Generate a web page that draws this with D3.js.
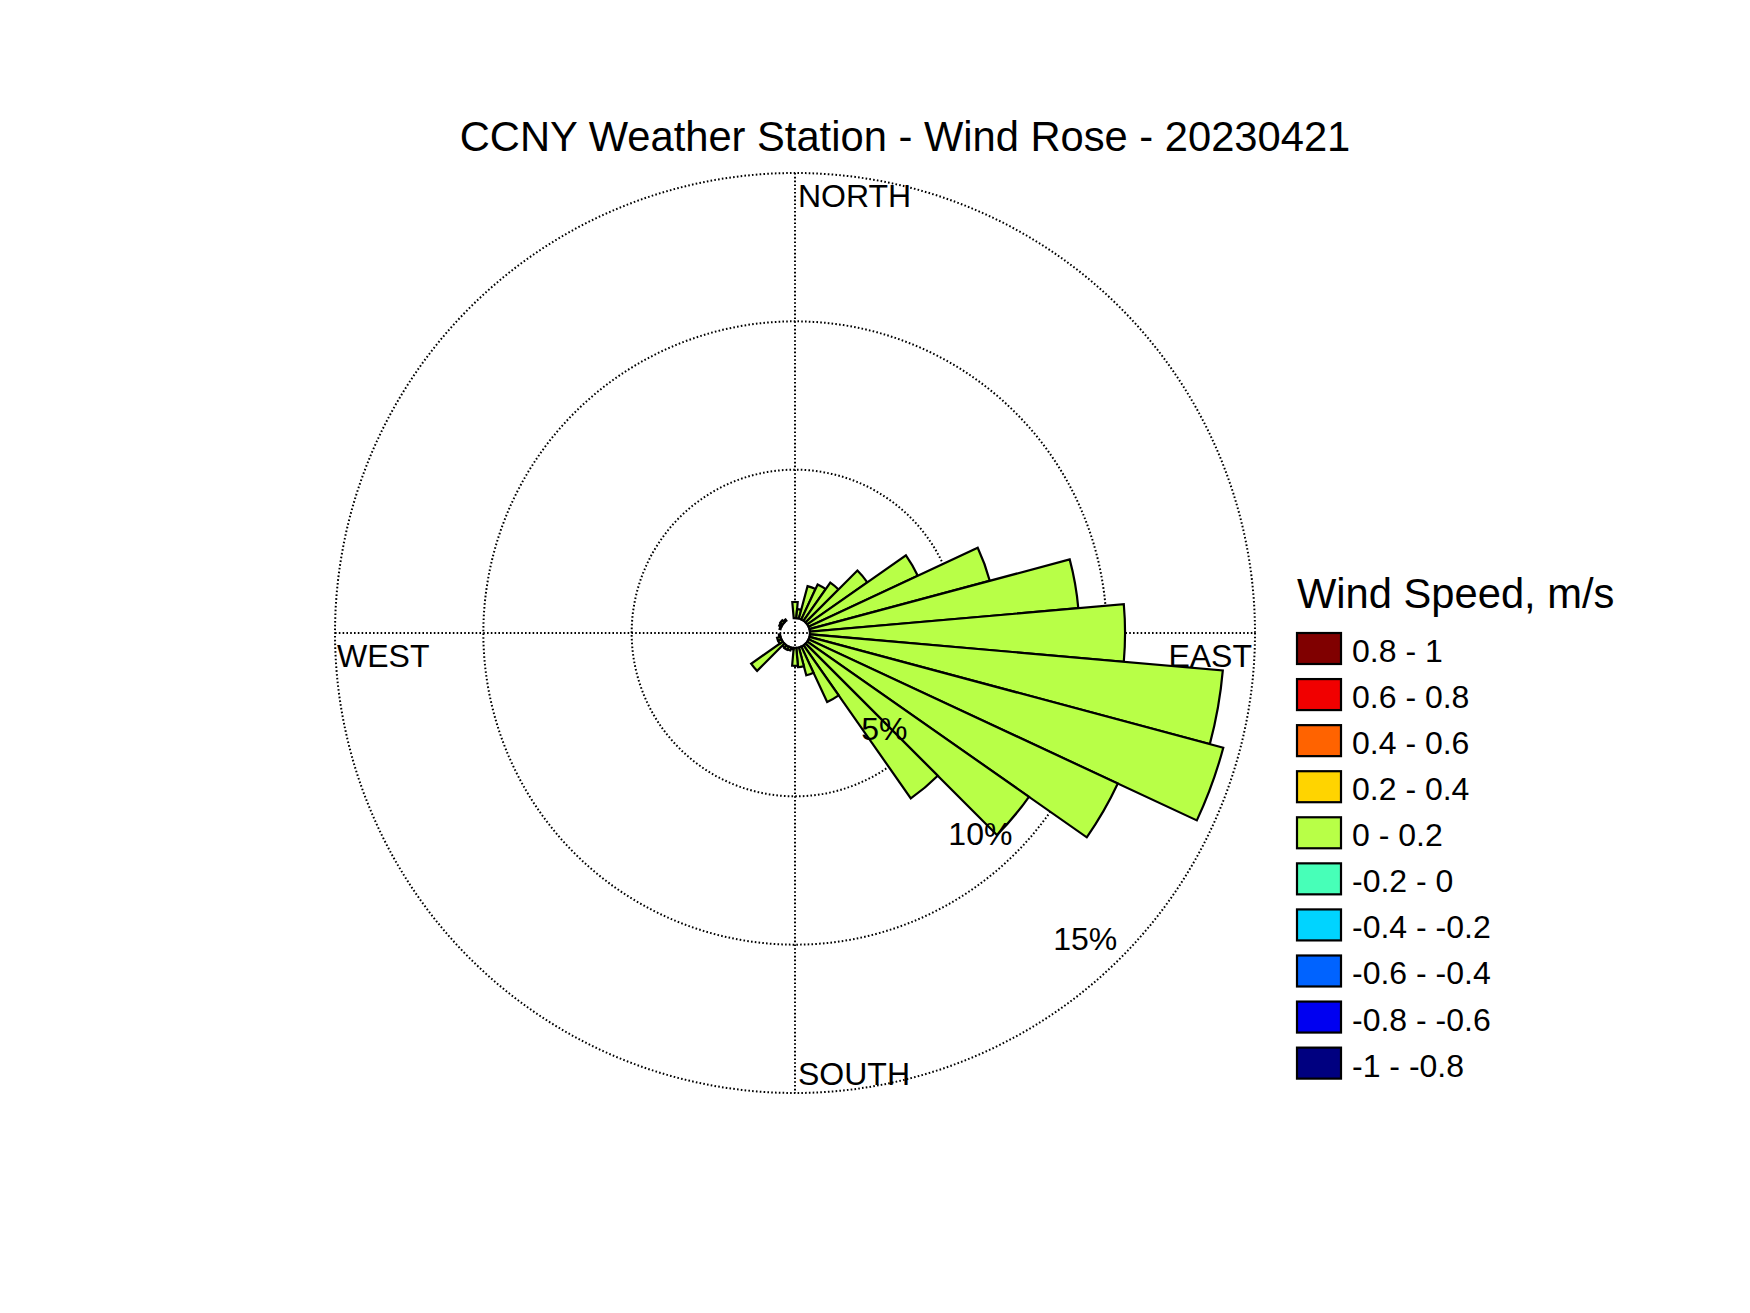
<!DOCTYPE html>
<html>
<head>
<meta charset="utf-8">
<script src="https://cdn.jsdelivr.net/npm/d3@7"></script>
<style>
  html, body { margin: 0; padding: 0; background: #fff; }
  svg { display: block; }
  text { font-family: "Liberation Sans", Arial, Helvetica, sans-serif; fill: #000; }
</style>
</head>
<body>
<script>
// ---------- data ----------
const titleText = "CCNY Weather Station - Wind Rose - 20230421";
const legendTitle = "Wind Speed, m/s";
const speedBins = ["0.8 - 1","0.6 - 0.8","0.4 - 0.6","0.2 - 0.4","0 - 0.2",
                   "-0.2 - 0","-0.4 - -0.2","-0.6 - -0.4","-0.8 - -0.6","-1 - -0.8"];
const binColors = ["#800000","#f10000","#ff6300","#ffd400","#b8ff47",
                   "#47ffb8","#00d4ff","#0063ff","#0000f1","#000080"];
const directions = [0,10,20,30,40,50,60,70,80,90,100,110,120,130,140,150,160,170,
                    180,190,200,210,220,230,240,250,260,270,280,290,300,310,320,330,340,350];
// frequency (%) of the "0 - 0.2" speed bin per direction
const freqBin0to02 = [0.54,0.30,1.13,1.30,1.57,2.47,4.06,6.29,9.08,10.62,13.97,14.44,
                      11.50,9.12,6.30,2.06,0.97,0.65,0.60,0.05,0.10,0.12,0.10,1.30,
                      0.12,0.12,0.04,0,0,0.03,0.08,0.10,0.05,0,0,0];
const radialTicks = [5,10,15];
const radialTickLabels = ["5%","10%","15%"];
const compassLabels = ["NORTH","EAST","SOUTH","WEST"];

// ---------- layout ----------
const W = 1750, H = 1313;
const cx = 795, cy = 633;
const R = 460, r0 = 15;
const barHalfWidthDeg = 5;

const svg = d3.select("body").append("svg").attr("width", W).attr("height", H);

const r = d3.scaleLinear().domain([0, 15]).range([r0, R]);

// title
svg.append("text")
  .attr("x", 905).attr("y", 151)
  .attr("text-anchor", "middle")
  .attr("font-size", 41.7)
  .text(titleText);

const g = svg.append("g").attr("transform", `translate(${cx},${cy})`);

// grid circles
const dotStyle = sel => sel.attr("fill", "none").attr("stroke", "#000")
  .attr("stroke-width", 2).attr("stroke-dasharray", "1.6 2.2");

g.selectAll("circle.grid").data(radialTicks).join("circle")
  .attr("class", "grid")
  .attr("r", d => r(d))
  .call(dotStyle);

// axis lines
g.append("line").attr("x1", 0).attr("x2", 0).attr("y1", -r(15)).attr("y2", r(15)).call(dotStyle);
g.append("line").attr("y1", 0).attr("y2", 0).attr("x1", -r(15)).attr("x2", r(15)).call(dotStyle);

// bars
const arc = d3.arc();
const toRad = d => d * Math.PI / 180;
const barData = directions.map((d, i) => ({dir: d, v: freqBin0to02[i]})).filter(d => d.v > 0);
g.selectAll("path.bar").data(barData).join("path")
  .attr("class", "bar")
  .attr("d", d => arc({
    innerRadius: r(0),
    outerRadius: r(d.v),
    startAngle: toRad(d.dir - barHalfWidthDeg),
    endAngle: toRad(d.dir + barHalfWidthDeg)
  }))
  .attr("fill", binColors[speedBins.indexOf("0 - 0.2")])
  .attr("stroke", "#000")
  .attr("stroke-width", 2.2)
  .attr("stroke-linejoin", "miter");

// radial tick labels along 135 deg
const a135 = toRad(135);
g.selectAll("text.rtick").data(radialTicks).join("text")
  .attr("class", "rtick")
  .attr("x", d => r(d) * Math.sin(a135) - 3)
  .attr("y", d => -r(d) * Math.cos(a135) - 8)
  .attr("text-anchor", "end")
  .attr("font-size", 32)
  .text((d, i) => radialTickLabels[i]);

// compass labels
g.append("text").attr("x", 3).attr("y", -R + 34).attr("font-size", 32).text(compassLabels[0]);
g.append("text").attr("x", R - 3).attr("y", 34).attr("font-size", 32).attr("text-anchor", "end").text(compassLabels[1]);
g.append("text").attr("x", 3).attr("y", R - 8).attr("font-size", 32).text(compassLabels[2]);
g.append("text").attr("x", -R + 2).attr("y", 34).attr("font-size", 32).text(compassLabels[3]);

// legend
const lg = svg.append("g").attr("transform", "translate(1297,0)");
lg.append("text").attr("x", 0).attr("y", 608).attr("font-size", 41.7).text(legendTitle);
const ly = d3.scaleLinear().domain([0, 9]).range([633, 633 + 9 * 46.07]);
const items = lg.selectAll("g.item").data(speedBins).join("g").attr("class", "item")
  .attr("transform", (d, i) => `translate(0,${ly(i)})`);
items.append("rect").attr("x", 0).attr("y", 0).attr("width", 44).attr("height", 31)
  .attr("fill", (d, i) => binColors[i]).attr("stroke", "#000").attr("stroke-width", 2.2);
items.append("text").attr("x", 55).attr("y", 29).attr("font-size", 32).text(d => d);
</script>
</body>
</html>
